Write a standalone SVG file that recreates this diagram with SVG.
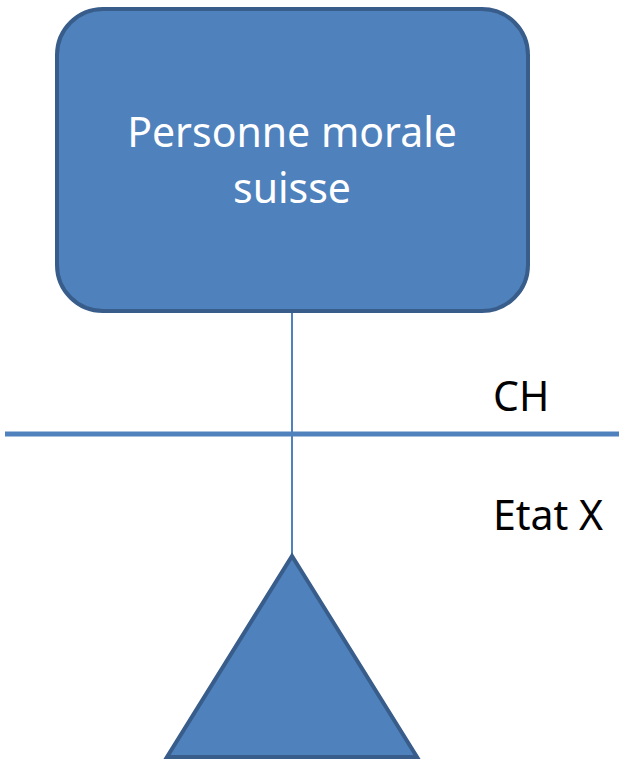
<svg xmlns="http://www.w3.org/2000/svg" width="619" height="761" viewBox="0 0 619 761">
<style>
.shape{fill:#4f81bd;stroke:#385d8a;stroke-width:4}
.conn{stroke:#4f81bd;fill:none}
.lbl{font-family:"Noto Sans","Open Sans","Liberation Sans",sans-serif;font-size:41px}
</style>
<rect width="619" height="761" fill="#ffffff"/>
<g id="connectors">
<line class="conn" x1="292" y1="311" x2="292" y2="556" stroke-width="2"/>
<line class="conn" x1="5" y1="434" x2="619" y2="434" stroke-width="5"/>
</g>
<g id="node-personne">
<rect class="shape" x="57" y="9" width="471" height="302" rx="46" ry="46"/>
<text class="lbl" x="292" y="147" text-anchor="middle" fill="#ffffff">Personne morale</text>
<text class="lbl" x="292" y="203" text-anchor="middle" fill="#ffffff">suisse</text>
</g>
<g id="label-ch">
<text class="lbl" x="493" y="411" fill="#000000">CH</text>
</g>
<g id="label-etat">
<text class="lbl" x="493" y="530" fill="#000000">Etat X</text>
</g>
<g id="node-triangle">
<polygon class="shape" points="292,556 417,757 167,757"/>
</g>
</svg>
